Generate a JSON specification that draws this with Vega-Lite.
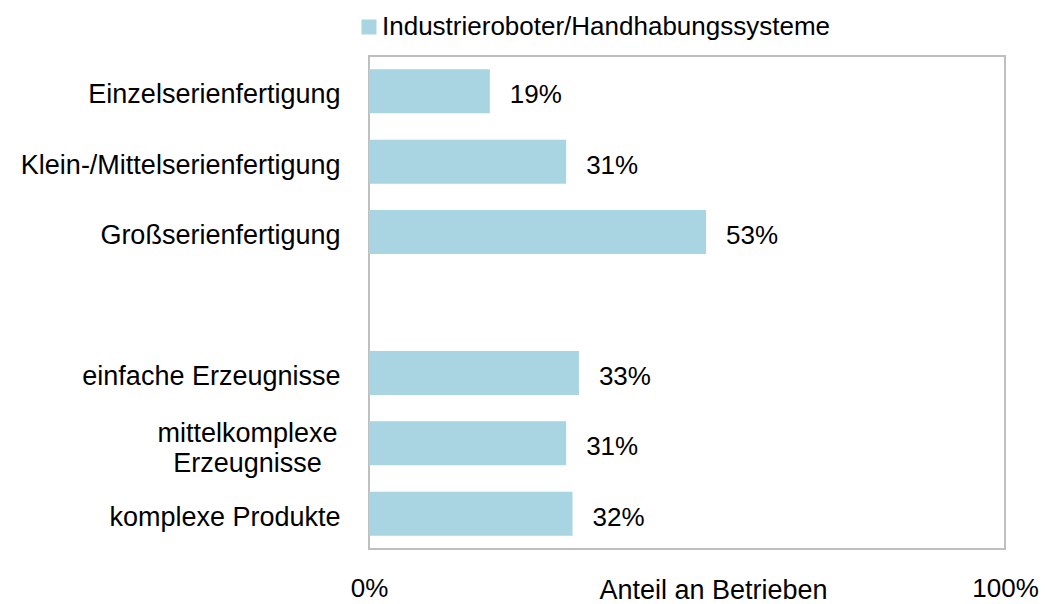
{
  "$schema": "https://vega.github.io/schema/vega-lite/v6.json",
  "autosize": "none",
  "width": 636,
  "height": 493,
  "padding": {"left": 369, "top": 56, "right": 40, "bottom": 55},
  "background": "white",
  "data": {
    "values": [
      {"kategorie": "Einzelserienfertigung", "anteil": 0.19},
      {"kategorie": "Klein-/Mittelserienfertigung", "anteil": 0.31},
      {"kategorie": "Großserienfertigung", "anteil": 0.53},
      {"kategorie": "einfache Erzeugnisse", "anteil": 0.33},
      {"kategorie": "mittelkomplexe Erzeugnisse", "anteil": 0.31},
      {"kategorie": "komplexe Produkte", "anteil": 0.32}
    ]
  },
  "encoding": {
    "y": {
      "field": "kategorie",
      "type": "nominal",
      "scale": {
        "domain": ["Einzelserienfertigung", "Klein-/Mittelserienfertigung", "Großserienfertigung", " ", "einfache Erzeugnisse", "mittelkomplexe Erzeugnisse", "komplexe Produkte"],
        "paddingInner": 0.375,
        "paddingOuter": 0.1875
      },
      "axis": {
        "title": null,
        "domain": false,
        "ticks": false,
        "tickSize": 0,
        "labelPadding": {"condition": {"test": "datum.value == 'mittelkomplexe Erzeugnisse'", "value": 122}, "value": 29},
        "labelAlign": {"condition": {"test": "datum.value == 'mittelkomplexe Erzeugnisse'", "value": "center"}, "value": "right"},
        "labelFont": "Liberation Sans",
        "labelFontSize": 27,
        "labelColor": "#000000",
        "labelLineHeight": 30,
        "labelLimit": 500,
        "labelOffset": {"condition": {"test": "datum.value == 'mittelkomplexe Erzeugnisse'", "value": -9}, "value": 4},
        "labelExpr": "datum.value == 'mittelkomplexe Erzeugnisse' ? ['mittelkomplexe', 'Erzeugnisse'] : datum.value"
      }
    },
    "x": {
      "field": "anteil",
      "type": "quantitative",
      "scale": {"domain": [0, 1], "nice": false},
      "axis": {
        "values": [0, 1],
        "format": ".0%",
        "grid": false,
        "domain": false,
        "ticks": false,
        "tickSize": 0,
        "labelFlush": false,
        "labelPadding": 39,
        "labelBaseline": "middle",
        "labelFont": "Liberation Sans",
        "labelFontSize": 26,
        "labelColor": "#000000",
        "title": "Anteil an Betrieben",
        "titleFont": "Liberation Sans",
        "titleFontSize": 27,
        "titleFontWeight": "normal",
        "titleColor": "#000000",
        "titleX": 344,
        "titleY": 41,
        "titleAlign": "center",
        "titleBaseline": "middle"
      }
    }
  },
  "layer": [
    {
      "mark": {"type": "bar", "color": "#A9D4E1"},
      "encoding": {
        "color": {
          "datum": "Industrieroboter/Handhabungssysteme",
          "type": "nominal",
          "scale": {"range": ["#A9D4E1"]},
          "legend": {
            "title": null,
            "orient": "none",
            "legendX": -13,
            "legendY": -42,
            "padding": 0,
            "symbolType": "square",
            "symbolSize": 225,
            "symbolStrokeWidth": 0,
            "labelFont": "Liberation Sans",
            "labelFontSize": 26,
            "labelColor": "#000000",
            "labelOffset": 0,
            "labelLimit": 600
          }
        }
      }
    },
    {
      "mark": {"type": "text", "align": "left", "baseline": "middle", "dx": 20, "dy": 4, "font": "Liberation Sans", "fontSize": 26, "color": "#000000"},
      "encoding": {
        "text": {"field": "anteil", "type": "quantitative", "format": ".0%"}
      }
    }
  ],
  "config": {
    "view": {"stroke": "#BFBFBF", "strokeWidth": 2}
  }
}
